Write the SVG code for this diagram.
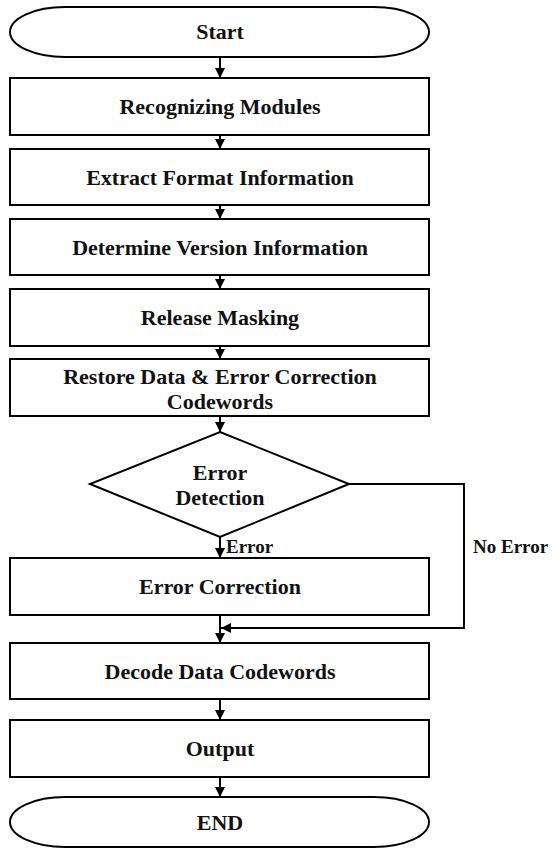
<svg xmlns="http://www.w3.org/2000/svg" width="553" height="850" viewBox="0 0 553 850">
<defs>
<style>
.n{fill:#fff;stroke:#000;stroke-width:2}
.t{font-family:"Liberation Serif","Times New Roman",serif;font-weight:bold;font-size:22px;fill:#111;text-anchor:middle}
.l{font-family:"Liberation Serif","Times New Roman",serif;font-weight:bold;font-size:19px;fill:#111}
.c{fill:none;stroke:#000;stroke-width:2}
</style>
<marker id="ah" viewBox="0 0 10 10" refX="10" refY="5" markerWidth="5" markerHeight="5" orient="auto" markerUnits="strokeWidth">
<path d="M0,0 L10,5 L0,10 z" fill="#000"/>
</marker>
</defs>
<rect width="553" height="850" fill="#fff"/>
<g id="connectors">
<line class="c" x1="220" y1="57" x2="220" y2="78" marker-end="url(#ah)"/>
<line class="c" x1="220" y1="135" x2="220" y2="149" marker-end="url(#ah)"/>
<line class="c" x1="220" y1="205" x2="220" y2="219" marker-end="url(#ah)"/>
<line class="c" x1="220" y1="275" x2="220" y2="289" marker-end="url(#ah)"/>
<line class="c" x1="220" y1="346" x2="220" y2="359" marker-end="url(#ah)"/>
<line class="c" x1="220" y1="416" x2="220" y2="432" marker-end="url(#ah)"/>
<line class="c" x1="220" y1="537" x2="220" y2="558" marker-end="url(#ah)"/>
<line class="c" x1="220" y1="615" x2="220" y2="643" marker-end="url(#ah)"/>
<polyline class="c" points="349,484 464,484 464,628 221,628" marker-end="url(#ah)"/>
<line class="c" x1="220" y1="699" x2="220" y2="720" marker-end="url(#ah)"/>
<line class="c" x1="220" y1="777" x2="220" y2="797" marker-end="url(#ah)"/>
<text class="l" x="226" y="553">Error</text>
<text class="l" x="473" y="553">No Error</text>
</g>
<g id="start">
<rect class="n" x="10" y="7" width="419" height="50" rx="55" ry="25"/>
<text class="t" x="220" y="39">Start</text>
</g>
<g id="recognizing">
<rect class="n" x="10" y="78" width="419" height="57"/>
<text class="t" x="220" y="114">Recognizing Modules</text>
</g>
<g id="extract">
<rect class="n" x="10" y="149" width="419" height="56"/>
<text class="t" x="220" y="185">Extract Format Information</text>
</g>
<g id="determine">
<rect class="n" x="10" y="219" width="419" height="56"/>
<text class="t" x="220" y="255">Determine Version Information</text>
</g>
<g id="release">
<rect class="n" x="10" y="289" width="419" height="57"/>
<text class="t" x="220" y="325">Release Masking</text>
</g>
<g id="restore">
<rect class="n" x="10" y="359" width="419" height="57"/>
<text class="t" x="220" y="384">Restore Data &amp; Error Correction</text>
<text class="t" x="220" y="409">Codewords</text>
</g>
<g id="detection">
<polygon class="n" points="220,432 349,484 220,537 90,484"/>
<text class="t" x="220" y="480">Error</text>
<text class="t" x="220" y="505">Detection</text>
</g>
<g id="correction">
<rect class="n" x="10" y="558" width="419" height="57"/>
<text class="t" x="220" y="594">Error Correction</text>
</g>
<g id="decode">
<rect class="n" x="10" y="643" width="419" height="56"/>
<text class="t" x="220" y="679">Decode Data Codewords</text>
</g>
<g id="output">
<rect class="n" x="10" y="720" width="419" height="57"/>
<text class="t" x="220" y="756">Output</text>
</g>
<g id="end">
<rect class="n" x="10" y="797" width="419" height="50" rx="55" ry="25"/>
<text class="t" x="220" y="830">END</text>
</g>
</svg>
